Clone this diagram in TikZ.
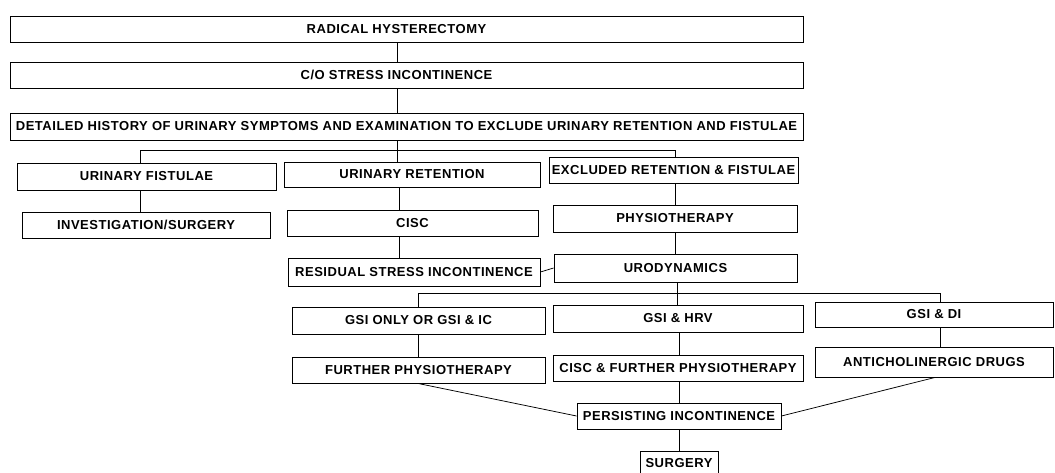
\documentclass[tikz,border=0pt]{standalone}
\usepackage{fontspec}
\setmainfont{Liberation Sans}[LetterSpace=4]
\begin{document}
\begin{tikzpicture}[x=1pt,y=-1pt,
  box/.style={draw,line width=0.9pt,inner sep=0pt,font=\fontsize{13}{15}\selectfont\bfseries},
  conn/.style={line width=0.75pt}]
\useasboundingbox (0,0) rectangle (1055,473);
% boxes
\node[box,minimum width=793pt,minimum height=26pt] (rh) at (406.5,29) {\hspace*{-20pt}RADICAL HYSTERECTOMY};
\node[box,minimum width=793pt,minimum height=26pt] (co) at (406.5,75) {\hspace*{-20pt}C/O STRESS INCONTINENCE};
\node[box,minimum width=793pt,minimum height=27pt] (dh) at (406.5,126.5) {DETAILED HISTORY OF URINARY SYMPTOMS AND EXAMINATION TO EXCLUDE URINARY RETENTION AND FISTULAE};
\node[box,minimum width=259pt,minimum height=27pt] (uf) at (146.5,176.5) {URINARY FISTULAE};
\node[box,minimum width=256pt,minimum height=25pt] (ur) at (412,174.5) {URINARY RETENTION};
\node[box,minimum width=249pt,minimum height=26pt] (ex) at (673.5,170) {EXCLUDED RETENTION \& FISTULAE};
\node[box,minimum width=248pt,minimum height=26pt] (inv) at (146,225) {INVESTIGATION/SURGERY};
\node[box,minimum width=251pt,minimum height=26pt] (cisc) at (412.5,223) {CISC};
\node[box,minimum width=252pt,minimum height=28pt] (rs) at (414,272) {RESIDUAL STRESS INCONTINENCE};
\node[box,minimum width=244pt,minimum height=27pt] (ph) at (675,218.5) {PHYSIOTHERAPY};
\node[box,minimum width=243pt,minimum height=28pt] (uro) at (675.5,268) {URODYNAMICS};
\node[box,minimum width=253pt,minimum height=27pt] (gone) at (418.5,320.5) {GSI ONLY OR GSI \& IC};
\node[box,minimum width=250pt,minimum height=27pt] (ghrv) at (678,318.5) {GSI \& HRV};
\node[box,minimum width=238pt,minimum height=25pt] (gdi) at (934,314.5) {GSI \& DI};
\node[box,minimum width=253pt,minimum height=26pt] (fp) at (418.5,370) {FURTHER PHYSIOTHERAPY};
\node[box,minimum width=250pt,minimum height=26pt] (cfp) at (678,368) {CISC \& FURTHER PHYSIOTHERAPY};
\node[box,minimum width=238pt,minimum height=30pt] (ach) at (934,362) {ANTICHOLINERGIC DRUGS};
\node[box,minimum width=204pt,minimum height=26pt] (pi) at (679,416) {PERSISTING INCONTINENCE};
\node[box,minimum width=78pt,minimum height=25pt] (su) at (679,463.5) {SURGERY};
% helper coordinates
\coordinate (xt) at (397,0);
\coordinate (xl) at (140,0);
\coordinate (xc) at (399,0);
\coordinate (xr) at (675,0);
\coordinate (ya) at (0,150);
\coordinate (xg) at (418,0);
\coordinate (xm) at (677,0);
\coordinate (xd) at (940,0);
\coordinate (yb) at (0,293);
\coordinate (xp) at (679,0);
\coordinate (xs) at (935,0);
% connectors
\draw[conn] (rh.south -| xt) -- (co.north -| xt);
\draw[conn] (co.south -| xt) -- (dh.north -| xt);
\draw[conn] (dh.south -| xt) -- (ur.north -| xt);
\draw[conn] (uf.north -| xl) |- (xr |- ya) -- (ex.north -| xr);
\draw[conn] (uf.south -| xl) -- (inv.north -| xl);
\draw[conn] (ur.south -| xc) -- (cisc.north -| xc);
\draw[conn] (cisc.south -| xc) -- (rs.north -| xc);
\draw[conn] (ex.south -| xr) -- (ph.north -| xr);
\draw[conn] (ph.south -| xr) -- (uro.north -| xr);
\draw[conn] (rs.east) -- (uro.west);
\draw[conn] (uro.south -| xm) -- (ghrv.north -| xm);
\draw[conn] (gone.north -| xg) |- (xd |- yb) -- (gdi.north -| xd);
\draw[conn] (gone.south -| xg) -- (fp.north -| xg);
\draw[conn] (ghrv.south -| xp) -- (cfp.north -| xp);
\draw[conn] (gdi.south -| xd) -- (ach.north -| xd);
\draw[conn] (cfp.south -| xp) -- (pi.north -| xp);
\draw[conn] (pi.south -| xp) -- (su.north -| xp);
\draw[conn] (fp.south -| xg) -- (pi.west);
\draw[conn] (ach.south -| xs) -- (pi.east);
\end{tikzpicture}
\end{document}
